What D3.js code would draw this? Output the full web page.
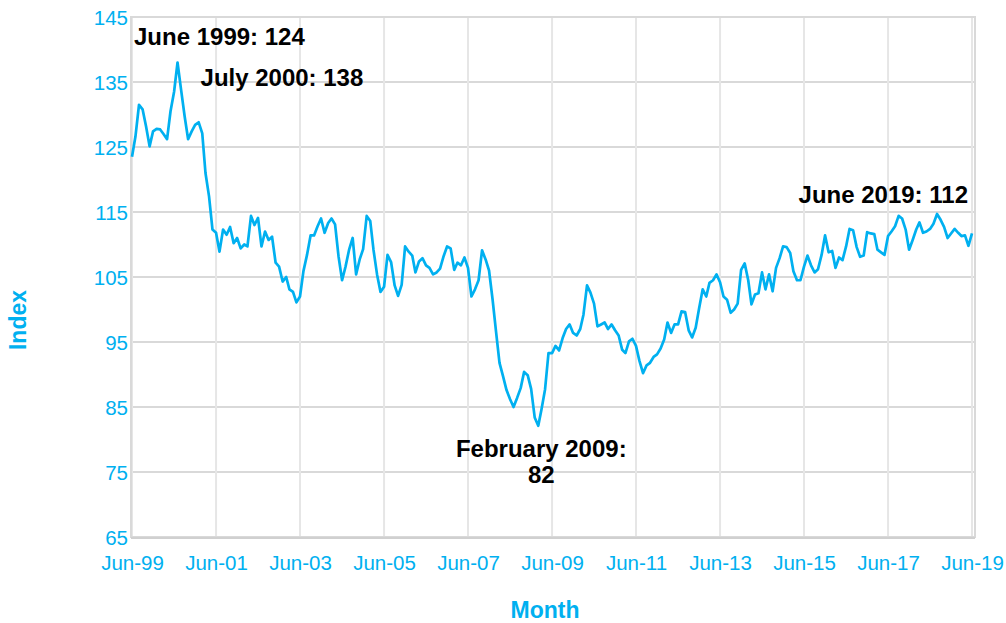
<!DOCTYPE html>
<html>
<head>
  <meta charset="utf-8">
  <title>Index by month, Jun-99 to Jun-19</title>
  <style>
    body { margin: 0; background: #fff; }
    text { font-family: "Liberation Sans", Arial, sans-serif; }
  </style>
</head>
<body>
  <svg width="1006" height="623"></svg>
  <script src="https://d3js.org/d3.v7.min.js"></script>
  <script>
    // 1. data (monthly index, first value = June 1999)
    var startMonth = new Date(1999, 5, 1);
    var indexValues = [
      123.5, 126.6, 131.5, 130.8, 128.2, 125.1, 127.4, 127.8, 127.7, 127.0,
      126.2, 130.5, 133.5, 138.0, 133.8, 129.7, 126.2, 127.4, 128.4, 128.8,
      127.1, 121.0, 117.4, 112.3, 111.8, 108.9, 112.3, 111.5, 112.7, 110.2,
      111.0, 109.4, 110.0, 109.7, 114.4, 113.0, 114.1, 109.7, 112.0, 110.7,
      111.2, 107.2, 106.6, 104.3, 105.0, 103.1, 102.7, 101.1, 102.0, 105.9,
      108.4, 111.4, 111.4, 112.8, 114.0, 111.8, 113.3, 114.0, 113.1, 108.2,
      104.5, 106.6, 109.2, 111.0, 105.4, 107.7, 109.3, 114.4, 113.6, 109.2,
      105.4, 102.7, 103.5, 108.4, 107.3, 103.7, 102.1, 103.8, 109.7, 108.9,
      108.3, 105.7, 107.4, 107.9, 106.8, 106.4, 105.4, 105.7, 106.3, 108.2,
      109.7, 109.4, 106.1, 107.2, 106.8, 108.0, 106.4, 102.0, 103.1, 104.5,
      109.1, 107.7, 106.0, 101.5, 96.4, 91.8, 89.7, 87.6, 86.2, 85.0,
      86.4, 87.9, 90.4, 89.9, 87.8, 83.4, 82.1, 84.6, 87.7, 93.3,
      93.3, 94.4, 93.7, 95.6, 97.0, 97.7, 96.4, 96.0, 97.0, 99.2,
      103.7, 102.6, 100.9, 97.4, 97.7, 98.0, 97.0, 97.7, 96.8, 96.0,
      93.8, 93.3, 95.1, 95.5, 94.4, 92.1, 90.2, 91.4, 91.8, 92.7,
      93.1, 94.0, 95.4, 98.0, 96.4, 97.7, 97.7, 99.7, 99.6, 96.8,
      95.7, 97.2, 100.2, 103.1, 102.0, 104.1, 104.5, 105.4, 104.2, 102.0,
      101.5, 99.5, 100.0, 100.9, 106.1, 107.1, 104.5, 100.8, 102.3, 102.5,
      105.7, 103.1, 105.4, 102.8, 106.4, 107.9, 109.7, 109.6, 108.7, 105.9,
      104.5, 104.5, 106.6, 108.3, 106.8, 105.7, 106.2, 108.4, 111.4, 108.8,
      109.0, 106.4, 108.0, 107.6, 109.7, 112.4, 112.2, 109.6, 108.1, 108.3,
      111.9, 111.7, 111.6, 109.2, 108.8, 108.4, 111.3, 112.0, 112.8, 114.4,
      114.0, 112.3, 109.2, 110.7, 112.3, 113.4, 111.8, 112.0, 112.4, 113.2,
      114.7, 113.8, 112.7, 111.0, 111.7, 112.4, 111.8, 111.3, 111.4, 109.8,
      111.7
    ];
    var yTicks = [65, 75, 85, 95, 105, 115, 125, 135, 145];
    var xTickLabels = ["Jun-99", "Jun-01", "Jun-03", "Jun-05", "Jun-07", "Jun-09",
      "Jun-11", "Jun-13", "Jun-15", "Jun-17", "Jun-19"];
    var annotationMonths = [0, 13, 116, 240];
    var annotationLines = [
      ["June 1999: 124"],
      ["July 2000: 138"],
      ["February 2009:", "82"],
      ["June 2019: 112"]
    ];

    var data = indexValues.map(function (v, i) {
      return { date: d3.timeMonth.offset(startMonth, i), value: v };
    });
    var xTickDates = xTickLabels.map(function (d, i) {
      return d3.timeMonth.offset(startMonth, i * 24);
    });

    // 2. scales
    var svg = d3.select("svg");
    var blue = "#00b0f0";
    var x = d3.scaleTime()
      .domain([startMonth, d3.timeMonth.offset(startMonth, 240)])
      .range([132, 972]);
    var y = d3.scaleLinear().domain([65, 145]).range([537, 17]);

    // 3. grid
    svg.append("g").selectAll("line")
      .data(yTicks)
      .enter().append("line")
      .attr("x1", 132).attr("x2", 975)
      .attr("y1", function (d) { return y(d); })
      .attr("y2", function (d) { return y(d); })
      .attr("stroke", "#d9d9d9").attr("stroke-width", 2);
    svg.append("g").selectAll("line")
      .data(xTickDates)
      .enter().append("line")
      .attr("x1", function (d) { return x(d); })
      .attr("x2", function (d) { return x(d); })
      .attr("y1", 17).attr("y2", 537)
      .attr("stroke", "#e6e6e6").attr("stroke-width", 2);
    // plot area border
    svg.append("rect")
      .attr("x", 131).attr("y", 17).attr("width", 844).attr("height", 520)
      .attr("fill", "none").attr("stroke", "#d9d9d9").attr("stroke-width", 2);
    svg.append("line")
      .attr("x1", 131).attr("x2", 975).attr("y1", 538).attr("y2", 538)
      .attr("stroke", "#d0d0d0").attr("stroke-width", 2);

    // 4. axes labels (d3 axes, domain/ticks hidden)
    var yAxis = svg.append("g")
      .attr("transform", "translate(128,0)")
      .call(d3.axisLeft(y).tickValues(yTicks).tickSize(0).tickPadding(0));
    var xAxis = svg.append("g")
      .attr("transform", "translate(0,555)")
      .call(d3.axisBottom(x).tickValues(xTickDates).tickSize(0).tickPadding(0)
        .tickFormat(function (d, i) { return xTickLabels[i]; }));
    [yAxis, xAxis].forEach(function (g) {
      g.select(".domain").remove();
      g.selectAll("text")
        .attr("fill", blue)
        .style("font-family", '"Liberation Sans", Arial, sans-serif')
        .style("font-size", "20.5px");
    });
    yAxis.selectAll("text").attr("dy", "0.36em");
    xAxis.selectAll("text").attr("dy", "0.72em");

    svg.append("text")
      .attr("x", 545).attr("y", 618)
      .attr("text-anchor", "middle")
      .attr("fill", blue).attr("font-weight", "bold").attr("font-size", "23px")
      .text("Month");
    svg.append("text")
      .attr("transform", "translate(26,320) rotate(-90)")
      .attr("text-anchor", "middle")
      .attr("fill", blue).attr("font-weight", "bold").attr("font-size", "23px")
      .text("Index");

    // 5. line
    var line = d3.line()
      .x(function (d) { return x(d.date); })
      .y(function (d) { return y(d.value); });
    svg.append("path")
      .datum(data)
      .attr("d", line)
      .attr("fill", "none")
      .attr("stroke", blue)
      .attr("stroke-width", 2.7)
      .attr("stroke-linejoin", "round");

    // 6. annotations
    var annOffsets = [
      { dx: 2, y: 45, anchor: "start" },
      { dx: 23, y: 86, anchor: "start" },
      { dx: 3, y: 457, anchor: "middle" },
      { dx: -4, y: 203, anchor: "end" }
    ];
    annotationMonths.forEach(function (m, i) {
      var d = data[m];
      var o = annOffsets[i];
      var t = svg.append("text")
        .attr("x", x(d.date) + o.dx)
        .attr("y", o.y)
        .attr("text-anchor", o.anchor)
        .attr("font-weight", "bold")
        .attr("font-size", "24px")
        .attr("fill", "#000");
      annotationLines[i].forEach(function (s, j) {
        t.append("tspan")
          .attr("x", x(d.date) + o.dx)
          .attr("dy", j === 0 ? 0 : 26)
          .text(s);
      });
    });
  </script>
</body>
</html>
